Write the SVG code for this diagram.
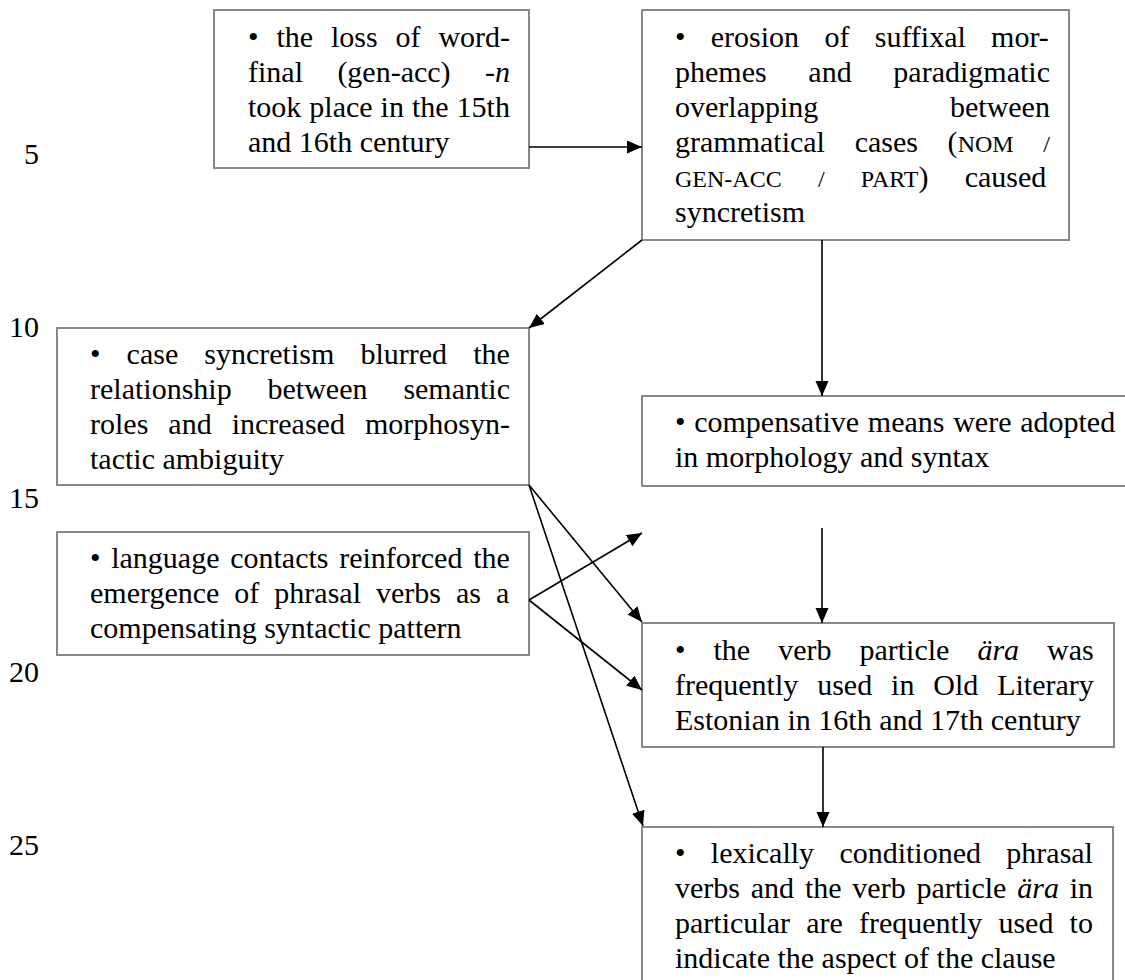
<svg xmlns="http://www.w3.org/2000/svg" width="1125" height="980" viewBox="0 0 1125 980">
<style>
.box{fill:#fff;stroke:#888;stroke-width:2}
text{font-family:"Liberation Serif","Times New Roman",serif;font-size:30px;fill:#000}
.sc{font-size:24px}
.it{font-style:italic}
.ln{text-anchor:end}
.con line{stroke:#000;stroke-width:1.6;marker-end:url(#ah)}
.con line.plain{marker-end:none}
</style>
<defs>
<marker id="ah" markerUnits="userSpaceOnUse" markerWidth="16" markerHeight="14" refX="15" refY="6.5" orient="auto">
<path d="M0,0 L15,6.5 L0,13 z" fill="#000"/>
</marker>
</defs>
<rect width="1125" height="980" fill="#fff"/>
<g id="linenumbers">
<text class="ln" x="39" y="164">5</text>
<text class="ln" x="39" y="337">10</text>
<text class="ln" x="39" y="508">15</text>
<text class="ln" x="39" y="682">20</text>
<text class="ln" x="39" y="855">25</text>
</g>
<g id="n1">
<rect class="box" x="214" y="10" width="315" height="158"/>
<text x="248" y="47" word-spacing="10.4">• the loss of word-</text>
<text x="248" y="82" word-spacing="26.9">final (gen-acc) <tspan class="it">-n</tspan></text>
<text x="248" y="117" word-spacing="0.5">took place in the 15th</text>
<text x="248" y="152">and 16th century</text>
</g>
<g id="n2">
<rect class="box" x="642" y="10" width="427" height="230"/>
<text x="675" y="47" word-spacing="17.8">• erosion of suffixal mor-</text>
<text x="675" y="82" word-spacing="34.2">phemes and paradigmatic</text>
<text x="675" y="117" word-spacing="124.2">overlapping between</text>
<text x="675" y="152" word-spacing="22.2">grammatical cases (<tspan class="sc">NOM</tspan> <tspan class="sc">/</tspan></text>
<text x="675" y="187" word-spacing="28.7"><tspan class="sc">GEN-ACC</tspan> <tspan class="sc">/</tspan> <tspan class="sc">PART</tspan>) caused</text>
<text x="675" y="222">syncretism</text>
</g>
<g id="n3">
<rect class="box" x="57" y="328" width="472" height="157"/>
<text x="90" y="364" word-spacing="18.6">• case syncretism blurred the</text>
<text x="90" y="399" word-spacing="28.4">relationship between semantic</text>
<text x="90" y="434" word-spacing="12.5">roles and increased morphosyn-</text>
<text x="90" y="469">tactic ambiguity</text>
</g>
<g id="n4">
<rect class="box" x="642" y="396" width="500" height="90"/>
<text x="675" y="432" word-spacing="1.2">• compensative means were adopted</text>
<text x="675" y="467">in morphology and syntax</text>
</g>
<g id="n5">
<rect class="box" x="57" y="532" width="472" height="123"/>
<text x="90" y="568" word-spacing="3.2">• language contacts reinforced the</text>
<text x="90" y="603" word-spacing="7.5">emergence of phrasal verbs as a</text>
<text x="90" y="638">compensating syntactic pattern</text>
</g>
<g id="n6">
<rect class="box" x="642" y="623" width="472" height="124"/>
<text x="675" y="660" word-spacing="20.5">• the verb particle <tspan class="it">ära</tspan> was</text>
<text x="675" y="695" word-spacing="11.4">frequently used in Old Literary</text>
<text x="675" y="730">Estonian in 16th and 17th century</text>
</g>
<g id="n7">
<rect class="box" x="642" y="827" width="471" height="180"/>
<text x="675" y="863" word-spacing="17.8">• lexically conditioned phrasal</text>
<text x="675" y="898" word-spacing="3.3">verbs and the verb particle <tspan class="it">ära</tspan> in</text>
<text x="675" y="933" word-spacing="8.7">particular are frequently used to</text>
<text x="675" y="968">indicate the aspect of the clause</text>
</g>
<g id="connectors" class="con">
<line x1="529" y1="147" x2="642" y2="147"/>
<line x1="642" y1="240" x2="529" y2="328"/>
<line x1="822" y1="240" x2="822" y2="396"/>
<line x1="822" y1="528" x2="822" y2="623"/>
<line x1="823" y1="747" x2="823" y2="827"/>
<line x1="529" y1="485" x2="642" y2="622"/>
<line x1="529" y1="485" x2="643" y2="826"/>
<line x1="529" y1="600" x2="642" y2="533"/>
<line x1="529" y1="600" x2="642" y2="690"/>
</g>
</svg>
